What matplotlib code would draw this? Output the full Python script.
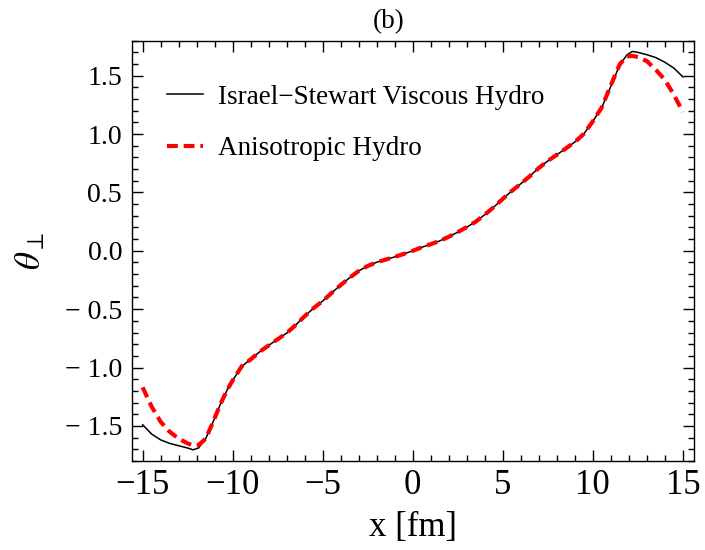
import matplotlib
matplotlib.use("Agg")
import matplotlib.pyplot as plt
from matplotlib.ticker import MultipleLocator, FuncFormatter

plt.rcParams['font.family'] = ['Liberation Serif', 'DejaVu Serif']
plt.rcParams['mathtext.fontset'] = 'stix'

# ---- data ----
x_is = [-15.0, -14.5, -14.0, -13.5, -13.0, -12.5, -12.2, -11.9, -11.5, -11.1, -10.7, -10.3,
        -10.0, -9.5, -9.0, -8.5, -8.0, -7.5, -7.0, -6.5, -6.0, -5.5, -5.0, -4.5, -4.0, -3.5,
        -3.0, -2.5, -2.0, -1.5, -1.0, -0.5, 0.0, 0.5, 1.0, 1.5, 2.0, 2.5, 3.0, 3.5, 4.0, 4.5,
        5.0, 5.5, 6.0, 6.5, 7.0, 7.5, 8.0, 8.5, 9.0, 9.5, 10.0, 10.5, 11.0, 11.5, 11.9, 12.2,
        12.5, 13.0, 13.5, 14.0, 14.5, 15.0]
theta_is = [-1.49, -1.57, -1.62, -1.65, -1.67, -1.69, -1.705, -1.69, -1.61, -1.47, -1.32, -1.19,
            -1.11, -0.99, -0.93, -0.865, -0.81, -0.757, -0.705, -0.635, -0.56, -0.49, -0.43,
            -0.36, -0.293, -0.23, -0.172, -0.13, -0.098, -0.075, -0.052, -0.027, 0.0, 0.03,
            0.057, 0.085, 0.12, 0.16, 0.203, 0.25, 0.31, 0.375, 0.445, 0.513, 0.575, 0.64,
            0.71, 0.77, 0.823, 0.877, 0.932, 1.002, 1.11, 1.23, 1.41, 1.595, 1.68, 1.708,
            1.70, 1.68, 1.655, 1.615, 1.565, 1.49]

x_aniso = x_is
theta_aniso = [-1.17, -1.335, -1.465, -1.55, -1.61, -1.65, -1.668, -1.665, -1.61, -1.47, -1.32,
               -1.19, -1.11, -0.99, -0.93, -0.865, -0.81, -0.757, -0.705, -0.635, -0.56, -0.49,
               -0.43, -0.36, -0.293, -0.23, -0.172, -0.13, -0.098, -0.075, -0.052, -0.027, 0.0,
               0.03, 0.057, 0.085, 0.12, 0.16, 0.203, 0.25, 0.31, 0.375, 0.445, 0.513, 0.575,
               0.64, 0.71, 0.77, 0.823, 0.877, 0.932, 1.002, 1.11, 1.23, 1.42, 1.60, 1.665,
               1.67, 1.66, 1.625, 1.55, 1.465, 1.335, 1.19]

labels = ["Israel\u2212Stewart Viscous Hydro", "Anisotropic Hydro"]

fig = plt.figure(figsize=(7.05, 5.5), dpi=100)
ax = fig.add_axes([0.187, 0.162, 0.797, 0.764])

ax.plot(x_is, theta_is, color='black', lw=1.1, label=labels[0])
ax.plot(x_aniso, theta_aniso, color='#ff0000', lw=3.0, dashes=(2.6, 1.4), label=labels[1])

ax.set_xlim(-15.6, 15.6)
ax.set_ylim(-1.8, 1.8)

ax.xaxis.set_major_locator(MultipleLocator(5))
ax.xaxis.set_minor_locator(MultipleLocator(1))
ax.yaxis.set_major_locator(MultipleLocator(0.5))
ax.yaxis.set_minor_locator(MultipleLocator(0.1))

def fmt_x(v, pos):
    s = f"{abs(v):.0f}"
    return ("\u2212" + s) if v < -1e-9 else s

def fmt_y(v, pos):
    s = f"{abs(v):.1f}"
    return ("\u2212 " + s) if v < -1e-9 else s

ax.xaxis.set_major_formatter(FuncFormatter(fmt_x))
ax.yaxis.set_major_formatter(FuncFormatter(fmt_y))

ax.tick_params(which='both', direction='in', top=True, right=True, width=1.0)
ax.tick_params(which='major', length=8, pad=7)
ax.tick_params(which='minor', length=4.5)
ax.tick_params(axis='x', labelsize=25, pad=6)
ax.tick_params(axis='y', labelsize=20)
for sp in ax.spines.values():
    sp.set_linewidth(1.0)

ax.set_xlabel("x [fm]", fontsize=25, labelpad=6)
ax.set_ylabel(r"$\theta_\perp$", fontsize=25, labelpad=12)
fig.text(389 / 705, 1 - 22 / 550, "(b)", fontsize=19.5, ha='center', va='center')

ax.legend(loc='upper left', bbox_to_anchor=(0.043, 0.921), frameon=False, fontsize=19.5,
          handlelength=1.33, handletextpad=0.55, labelspacing=0.985, borderaxespad=0)

fig.savefig("out.png", dpi=100)
